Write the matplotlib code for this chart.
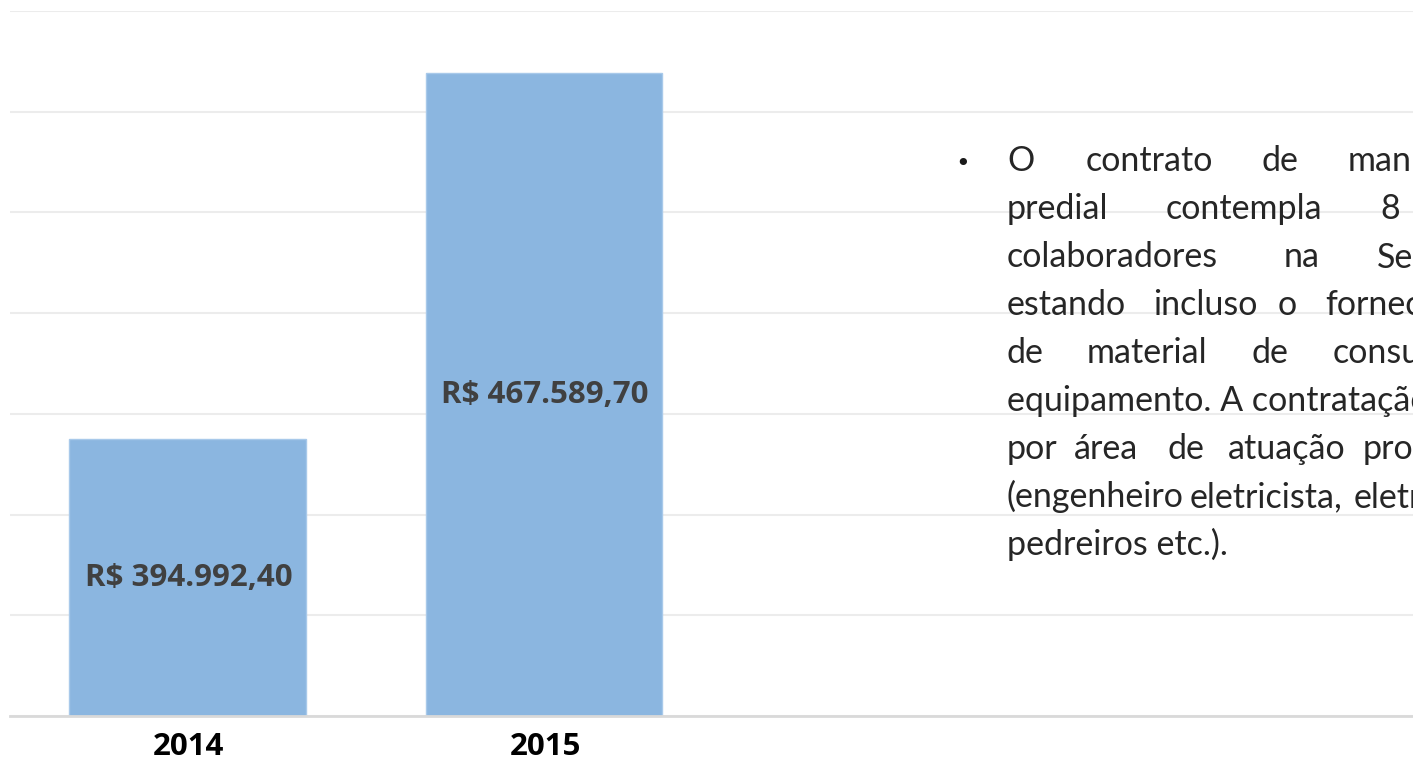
import matplotlib
matplotlib.use("Agg")
import matplotlib.pyplot as plt
import numpy as np

# ---- data ----
categories = ["2014", "2015"]
values = [394992.40, 467589.70]
value_labels = ["R$ 394.992,40", "R$ 467.589,70"]
y_min, y_max, y_step = 340000, 480000, 20000

# ---- text block (justified bullet text, clipped by the figure edge) ----
# (word, x pixel, horizontal alignment)
text_lines = [
    [("O", 1007, "left"), ("contrato", 1149, "center"), ("de", 1280, "center"), ("manutenção", 1348, "left")],
    [("predial", 1007, "left"), ("contempla", 1244, "center"), ("8", 1390, "center")],
    [("colaboradores", 1007, "left"), ("na", 1302, "center"), ("Secretaria,", 1377, "left")],
    [("estando", 1007, "left"), ("incluso", 1205, "center"), ("o", 1287, "center"), ("fornecimento", 1325, "left")],
    [("de", 1007, "left"), ("material", 1147, "center"), ("de", 1270, "center"), ("consumo", 1333, "left")],
    [("equipamento. A contratação é", 1007, "left")],
    [("por", 1007, "left"), ("área", 1106, "center"), ("de", 1186, "center"), ("atuação", 1287, "center"), ("profissional", 1363, "left")],
    [("(engenheiro", 1007, "left"), ("eletricista,", 1190, "left"), ("eletricistas,", 1354, "left")],
    [("pedreiros etc.).", 1007, "left")],
]

W, H = 1413, 759
fig = plt.figure(figsize=(W / 100, H / 100), dpi=100)
fig.patch.set_facecolor("white")

ax_left, ax_right, ax_top, ax_bottom = 10, 1413, 11, 716
ax = fig.add_axes([ax_left / W, 1 - ax_bottom / H, (ax_right - ax_left) / W, (ax_bottom - ax_top) / H])

x = np.arange(len(categories))
bar_w = 0.664
ax.bar(x - 0.003, values, width=bar_w, color="#8bb6e0", edgecolor="#a8c9ea", linewidth=1.0, zorder=2)

ax.set_ylim(y_min, y_max)
x_right = 3.433
ax.set_xlim(-0.5, x_right)
ax.set_yticks(np.arange(y_min, y_max + 1, y_step))
ax.yaxis.grid(True, color="#ececec", linewidth=1.5, zorder=0)
ax.set_axisbelow(True)
ax.tick_params(axis="y", left=False, labelleft=False)
ax.tick_params(axis="x", bottom=False, pad=8)
for s in ["top", "right", "left"]:
    ax.spines[s].set_visible(False)
ax.spines["bottom"].set_color("#d9d9d9")
ax.spines["bottom"].set_linewidth(2)
ax.spines["bottom"].set_zorder(3)

ax.set_xticks(x)
ax.set_xticklabels(categories, fontfamily="Open Sans", fontweight="bold", fontsize=22.5, color="black")

for xi, v, lab in zip(x, values, value_labels):
    ax.text(xi, (v + y_min) / 2, lab, ha="center", va="center",
            fontfamily="Open Sans", fontweight="bold", fontsize=22.5, color="#404040", zorder=4)

# text block
baseline0 = 171
line_gap = 48
fig.text(963 / W, 1 - baseline0 / H, "•", ha="center", va="baseline",
         fontfamily="DejaVu Sans", fontsize=18, color="#1a1a1a")
for i, line in enumerate(text_lines):
    yb = baseline0 + i * line_gap
    for word, xp, ha in line:
        fig.text(xp / W, 1 - yb / H, word, ha=ha, va="baseline",
                 fontfamily="Lato", fontweight="normal", fontsize=24.5, color="#262626")

fig.savefig("out.png", dpi=100)
